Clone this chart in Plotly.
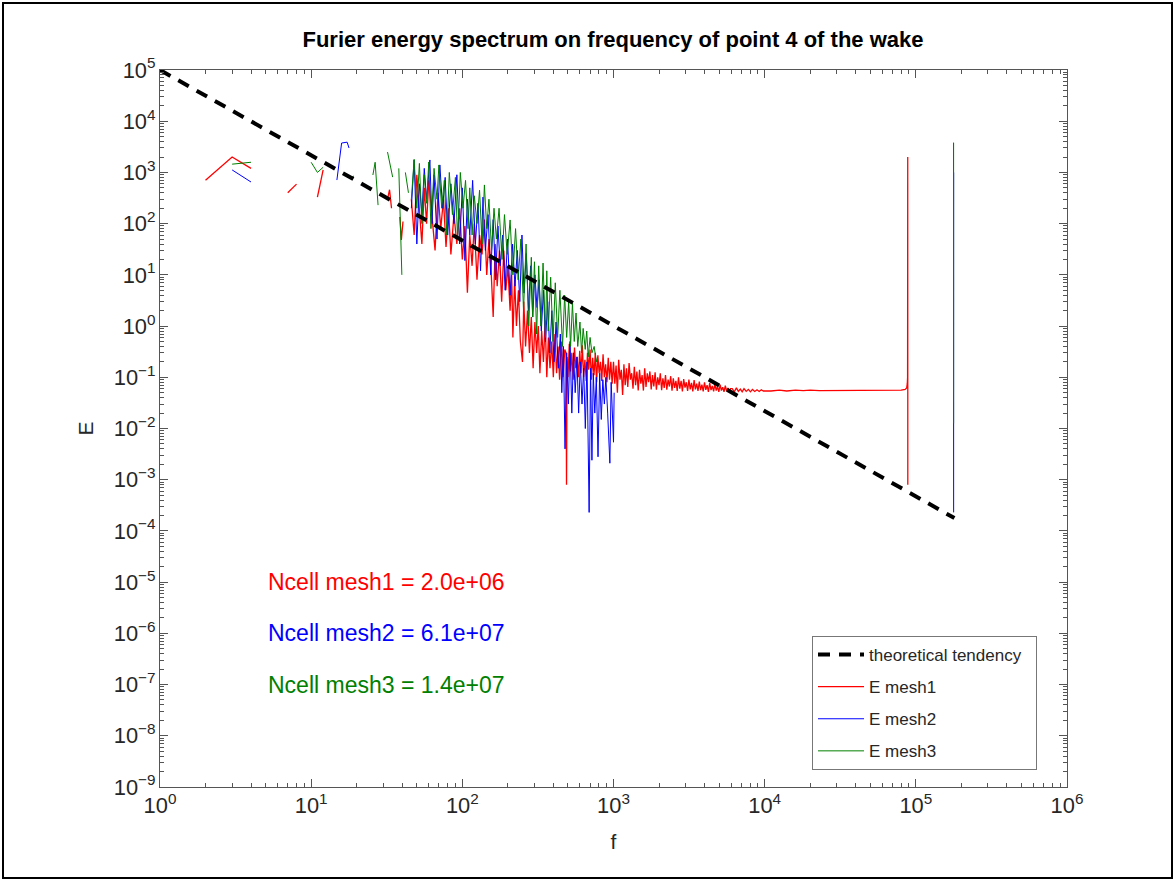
import plotly.graph_objects as go

# ---------------- data ----------------
# theoretical tendency (-5/3 law) end points
theory_f = [1, 180000]
theory_E = [100000, 0.000178]

# mesh1 (red)
m1_f_a = [2, 3, 4];            m1_E_a = [700, 2000, 1200]
m1_f_b = [7, 8];               m1_E_b = [400, 590]
m1_f_c = [11, 12];             m1_E_c = [330, 1120]
m1_f_d = [32, 33, 34];         m1_E_d = [300, 460, 200]
m1_f_e = [38.6, 39.5, 40.5];   m1_E_e = [135, 48, 110]
m1_f_main = [46, 48, 50, 52, 54, 56, 58, 60, 63, 66,
             69, 72, 75, 78, 81, 84, 88, 92, 96, 100,
             104, 108, 112, 116, 120, 125, 130, 135, 140, 145,
             150, 155, 160, 165, 170, 176, 182, 188, 194, 200,
             207, 212, 216, 222, 228, 235, 242, 250, 255, 262,
             270, 278, 286, 294, 302, 310, 318, 326, 335, 344,
             353, 362, 371, 380, 390, 400, 410, 420, 430, 440,
             452, 464]
m1_E_main = [300, 60, 900, 150, 40, 500, 100, 700, 150, 30,
             400, 80, 300, 35, 200, 25, 150, 40, 200, 20,
             90, 4.5, 60, 15, 100, 8, 60, 25, 120, 10,
             50, 12, 1.5, 40, 6, 30, 3, 30, 5, 15,
             2, 10, 0.6, 8, 1, 5, 0.5, 0.2, 3, 0.4,
             2, 0.3, 1.5, 0.15, 1.2, 0.3, 1.0, 0.12, 0.8, 0.2,
             1.3, 0.1, 0.6, 0.15, 0.5, 0.1, 0.7, 0.12, 0.4, 0.09,
             0.5, 0.1]
m1_f_mid = [476, 485, 489, 493, 500, 510, 520, 530, 541, 552,
            563, 574, 586, 598, 610, 622, 634, 647, 660, 673,
            686, 700, 714, 728, 743, 758, 773, 788, 804, 820,
            836, 853, 870, 887, 905, 923, 941, 960, 979]
m1_E_mid = [0.35, 0.3, 0.0008, 0.25, 0.1, 0.45, 0.13, 0.3, 0.09, 0.38,
            0.15, 0.25, 0.1, 0.33, 0.12, 0.42, 0.1, 0.22, 0.085, 0.3,
            0.14, 0.35, 0.09, 0.24, 0.11, 0.3, 0.08, 0.27, 0.12, 0.2,
            0.085, 0.28, 0.1, 0.18, 0.08, 0.24, 0.09, 0.2, 0.075]
m1_f_band = [1000, 1020, 1040, 1061, 1082, 1104, 1126, 1149, 1172, 1195,
             1219, 1243, 1268, 1294, 1319, 1346, 1373, 1400, 1428, 1457,
             1486, 1516, 1546, 1577, 1608, 1641, 1673, 1707, 1741, 1776,
             1811, 1848, 1885, 1922, 1961, 2000, 2040, 2081, 2122, 2165,
             2208, 2252, 2297, 2343, 2390, 2438, 2487, 2536, 2587, 2639,
             2692, 2745, 2800, 2856, 2913, 2972, 3031, 3092, 3154, 3217,
             3281, 3347, 3414, 3482, 3551, 3622, 3695, 3769, 3844, 3921,
             4000, 4080, 4161, 4245, 4330, 4416, 4505, 4595, 4687, 4780,
             4876, 4973, 5073, 5174, 5278, 5383, 5491, 5601, 5713, 5827,
             5944, 6100, 6300, 6500, 6700, 6900, 7100, 7300, 7550, 7800,
             8050, 8300, 8600, 8900, 9200, 9500, 9800]
m1_E_band = [0.2, 0.075, 0.17, 0.05, 0.22, 0.09, 0.14, 0.045, 0.18, 0.07,
             0.15, 0.065, 0.19, 0.09, 0.12, 0.06, 0.16, 0.07, 0.13, 0.055,
             0.14, 0.075, 0.11, 0.055, 0.15, 0.065, 0.12, 0.08, 0.13, 0.058,
             0.11, 0.066, 0.125, 0.057, 0.1, 0.07, 0.12, 0.056, 0.095, 0.062,
             0.11, 0.057, 0.09, 0.066, 0.105, 0.055, 0.095, 0.062, 0.085, 0.054,
             0.1, 0.06, 0.085, 0.053, 0.092, 0.063, 0.08, 0.054, 0.09, 0.058,
             0.078, 0.053, 0.088, 0.058, 0.075, 0.054, 0.082, 0.056, 0.072, 0.053,
             0.08, 0.057, 0.07, 0.052, 0.078, 0.056, 0.068, 0.053, 0.074, 0.055,
             0.066, 0.052, 0.072, 0.055, 0.064, 0.052, 0.069, 0.054, 0.062, 0.052,
             0.06, 0.06, 0.052, 0.062, 0.053, 0.059, 0.052, 0.06, 0.053, 0.058,
             0.052, 0.058, 0.053, 0.057, 0.053, 0.057, 0.054]
m1_f_flat = [11000, 12500, 14000, 16000, 18000, 20000, 23000, 26000, 30000, 35000,
             40000, 50000, 60000, 70000, 80000, 85000, 87000, 87800, 88200, 88400, 88500]
m1_E_flat = [0.054, 0.056, 0.054, 0.056, 0.055, 0.056, 0.055, 0.055, 0.055, 0.055,
             0.055, 0.055, 0.055, 0.055, 0.056, 0.058, 0.062, 0.075, 0.1, 2000, 0.0008]

# mesh2 (blue)
m2_f_a = [3, 4];                      m2_E_a = [1120, 650]
m2_f_b = [14.8, 15.9, 17.3, 17.8];    m2_E_b = [710, 3750, 3900, 3000]
m2_f_main = [46, 48, 50, 52, 54, 56, 58, 61, 63, 65,
             68, 71, 74, 77, 80, 84, 88, 92, 96, 100,
             104, 108, 112, 117, 122, 127, 132, 137, 142, 148,
             154, 160, 166, 172, 178, 185, 192, 199, 207, 215,
             223, 231, 240, 248, 256, 265, 274, 283, 292, 302,
             312, 322, 333, 344, 355, 367, 379, 391, 404, 417,
             431, 445, 455, 466, 478, 490, 503, 516, 530, 544,
             558, 573, 588, 603, 619, 635, 651, 668, 690, 705,
             720, 735, 752, 770, 790, 810, 830, 850, 870, 890,
             915, 946, 965, 985, 1000, 1010]
m2_E_main = [200, 1750, 40, 600, 150, 1200, 300, 1750, 100, 900,
             50, 1400, 200, 800, 60, 600, 100, 900, 40, 500,
             19, 300, 60, 700, 40, 250, 12, 330, 30, 150,
             10, 120, 8, 90, 15, 60, 5, 50, 4, 40,
             6, 30, 3, 60, 4.4, 26, 2, 15, 1.5, 10,
             2.3, 8, 0.8, 5, 0.5, 3, 0.3, 2, 0.2, 1.2,
             0.15, 0.7, 0.05, 0.4, 0.004, 0.3, 0.03, 0.5, 0.02, 0.3,
             0.05, 0.25, 0.02, 0.2, 0.03, 0.15, 0.01, 0.2, 0.00023, 0.15,
             0.0024, 0.12, 0.02, 0.1, 0.0028, 0.12, 0.015, 0.09, 0.03, 0.1,
             0.02, 0.0021, 0.08, 0.02, 0.0054, 0.05]
m2_f_spike = [177500, 177700, 177900]; m2_E_spike = [0.05, 1000, 0.00023]

# mesh3 (green)
m3_f_a = [3, 4];               m3_E_a = [1450, 1580]
m3_f_b = [10, 11, 12];         m3_E_b = [1580, 1000, 1260]
m3_f_c = [18.1, 19.2];         m3_E_c = [780, 850]
m3_f_d = [25.6, 26.5, 27.7];   m3_E_d = [890, 1580, 230]
m3_f_e = [32, 34.6];           m3_E_e = [2500, 810]
m3_f_f = [38, 39.8];           m3_E_f = [1200, 10]
m3_f_g = [42, 44];             m3_E_g = [1000, 400]
m3_f_main = [46, 48, 50, 52, 54, 56, 58, 60, 62, 65,
             68, 70, 73, 76, 79, 82, 86, 90, 93, 97,
             101, 105, 109, 112, 116, 120, 125, 130, 135, 140,
             145, 150, 156, 162, 168, 175, 183, 190, 198, 207,
             216, 225, 234, 244, 254, 264, 275, 286, 292, 300,
             310, 320, 331, 342, 355, 362, 370, 384, 398, 412,
             427, 442, 460, 475, 490, 505, 520, 535, 550, 565,
             580, 600, 615, 630, 650, 665, 680, 700, 720, 745,
             770, 785]
m3_E_main = [300, 1800, 200, 1500, 100, 900, 250, 1600, 80, 1200,
             300, 1400, 200, 700, 60, 1000, 150, 800, 50, 1000,
             200, 700, 80, 500, 60, 350, 100, 450, 40, 570,
             80, 300, 30, 200, 50, 200, 20, 150, 25, 118,
             10, 80, 8, 50, 2, 40, 1, 22, 1.5, 18,
             0.7, 15, 1, 17, 0.6, 12, 0.8, 9, 0.5, 7,
             0.6, 5, 0.4, 4, 0.6, 3, 0.4, 2.8, 0.5, 1.8,
             0.4, 1.2, 0.3, 0.9, 0.35, 0.8, 0.25, 0.6, 0.3, 0.4,
             0.2, 0.25]
m3_f_spike = [177550, 177650, 177750]; m3_E_spike = [0.05, 3800, 0.0126]

ncell_labels = ["Ncell mesh1 = 2.0e+06", "Ncell mesh2 = 6.1e+07", "Ncell mesh3 = 1.4e+07"]
ncell_logE = [-5, -6, -7]
ncell_logf = 0.69897


def join(*segs):
    f, E = [], []
    for i, (fs, Es) in enumerate(segs):
        assert len(fs) == len(Es), (len(fs), len(Es))
        if i:
            f.append(None)
            E.append(None)
        f += list(fs)
        E += list(Es)
    return f, E


m1_f, m1_E = join((m1_f_a, m1_E_a), (m1_f_b, m1_E_b), (m1_f_c, m1_E_c),
                  (m1_f_d, m1_E_d), (m1_f_e, m1_E_e),
                  (m1_f_main + m1_f_mid + m1_f_band + m1_f_flat,
                   m1_E_main + m1_E_mid + m1_E_band + m1_E_flat))
m2_f, m2_E = join((m2_f_a, m2_E_a), (m2_f_b, m2_E_b), (m2_f_main, m2_E_main),
                  (m2_f_spike, m2_E_spike))
m3_f, m3_E = join((m3_f_a, m3_E_a), (m3_f_b, m3_E_b), (m3_f_c, m3_E_c),
                  (m3_f_d, m3_E_d), (m3_f_e, m3_E_e), (m3_f_f, m3_E_f),
                  (m3_f_g, m3_E_g), (m3_f_main, m3_E_main), (m3_f_spike, m3_E_spike))

RED, BLUE, GREEN = "#ff0000", "#0000ff", "#008000"
FONT = "Liberation Sans, Arial, Helvetica, sans-serif"
AX = "#555555"
TXT = "#262626"

fig = go.Figure()
fig.add_trace(go.Scatter(x=m1_f, y=m1_E, mode="lines", name="E mesh1",
                         line=dict(color=RED, width=1.3), legendrank=2, legendgroup="m1"))
fig.add_trace(go.Scatter(x=m2_f, y=m2_E, mode="lines", name="E mesh2",
                         line=dict(color=BLUE, width=1), legendrank=3, legendgroup="m2"))
fig.add_trace(go.Scatter(x=m3_f, y=m3_E, mode="lines", name="E mesh3",
                         line=dict(color=GREEN, width=1), legendrank=4, legendgroup="m3"))
fig.add_trace(go.Scatter(x=theory_f, y=theory_E, mode="lines",
                         name="theoretical tendency\u00a0\u00a0",
                         line=dict(color="black", width=4, dash="12px,9px"),
                         legendrank=1, legendgroup="th"))

axis_common = dict(
    type="log", showline=True, linecolor=AX, linewidth=1, mirror="ticks",
    ticks="inside", ticklen=8, tickcolor=AX, tickwidth=1,
    showgrid=False, zeroline=False, dtick=1, exponentformat="power",
    labelalias={"1": "10<sup>0</sup>", "10": "10<sup>1</sup>"},
    tickfont=dict(size=17.5, color=TXT, family=FONT),
    minor=dict(ticks="inside", ticklen=4, tickcolor=AX, dtick="D1", showgrid=False),
    automargin=False,
)

fig.update_xaxes(range=[0, 6], title=dict(text="f", font=dict(size=21, color=TXT), standoff=16),
                 **axis_common)
fig.update_yaxes(range=[-9, 5], title=dict(text="E", font=dict(size=21, color=TXT), standoff=14),
                 **axis_common)

for txt, ly, col in zip(ncell_labels, ncell_logE, [RED, BLUE, GREEN]):
    fig.add_annotation(x=ncell_logf, y=ly, xref="x", yref="y", text=txt, showarrow=False,
                       xanchor="left", yanchor="middle",
                       font=dict(size=23, color=col, family=FONT))

# outer frame of the picture
fig.add_shape(type="rect", xref="paper", yref="paper",
              x0=(3 - 160) / 907, x1=(1172 - 160) / 907,
              y0=(787 - 878) / 717, y1=(787 - 3) / 717,
              line=dict(color="black", width=2), fillcolor="rgba(0,0,0,0)", layer="above")

fig.update_layout(
    width=1175, height=881, autosize=False,
    margin=dict(l=160, r=108, t=70, b=94),
    paper_bgcolor="white", plot_bgcolor="white",
    font=dict(family=FONT, color=TXT),
    title=dict(text="<b>Furier energy spectrum on frequency of point 4 of the wake</b>",
               x=613 / 1175, xanchor="center", y=1 - 39 / 881, yanchor="middle",
               font=dict(size=22, color="black", family=FONT)),
    legend=dict(x=(812 - 160) / 907, y=(787 - 636) / 717, xanchor="left", yanchor="top",
                bgcolor="white", bordercolor="#777777", borderwidth=1, itemwidth=46,
                font=dict(size=17, color=TXT, family=FONT), tracegroupgap=7),
    showlegend=True,
)

fig.write_html("out.html")
